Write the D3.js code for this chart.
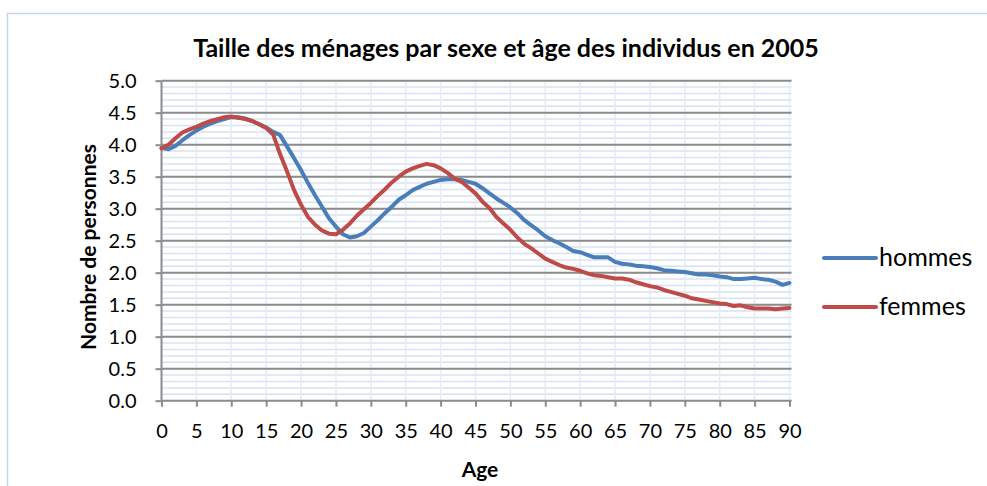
<!DOCTYPE html>
<html>
<head>
<meta charset="utf-8">
<script src="https://cdn.jsdelivr.net/npm/d3@7"></script>
<style>
  html, body { margin: 0; padding: 0; background: #fff; }
  svg { display: block; }
</style>
</head>
<body>
<div id="chart"></div>
<script>
  // Ages (x categories) and household size per sex
  var AGES = d3.range(0, 91);
  var HOMMES = [
    3.95, 3.93, 3.98, 4.07, 4.15, 4.22, 4.28, 4.33, 4.37, 4.40,
    4.43, 4.43, 4.41, 4.37, 4.32, 4.27, 4.20, 4.15, 3.97, 3.79,
    3.60, 3.40, 3.21, 3.03, 2.85, 2.72, 2.60, 2.55, 2.57, 2.62,
    2.72, 2.82, 2.93, 3.03, 3.14, 3.21, 3.29, 3.34, 3.39, 3.42,
    3.45, 3.46, 3.46, 3.45, 3.42, 3.39, 3.32, 3.24, 3.16, 3.09,
    3.02, 2.93, 2.82, 2.74, 2.66, 2.57, 2.51, 2.46, 2.40, 2.34,
    2.32, 2.28, 2.24, 2.24, 2.24, 2.17, 2.14, 2.13, 2.11, 2.10,
    2.09, 2.07, 2.04, 2.03, 2.02, 2.01, 1.99, 1.97, 1.97, 1.96,
    1.94, 1.93, 1.90, 1.90, 1.91, 1.92, 1.90, 1.89, 1.86, 1.81,
    1.84
  ];
  var FEMMES = [
    3.94, 4.00, 4.10, 4.19, 4.24, 4.28, 4.33, 4.37, 4.40, 4.43,
    4.44, 4.42, 4.40, 4.37, 4.32, 4.26, 4.16, 3.85, 3.58, 3.29,
    3.06, 2.87, 2.75, 2.66, 2.61, 2.60, 2.67, 2.77, 2.89, 2.99,
    3.09, 3.20, 3.30, 3.41, 3.50, 3.58, 3.63, 3.67, 3.70, 3.68,
    3.63, 3.56, 3.47, 3.42, 3.33, 3.24, 3.11, 3.01, 2.87, 2.77,
    2.67, 2.55, 2.45, 2.38, 2.30, 2.22, 2.17, 2.12, 2.08, 2.06,
    2.03, 1.99, 1.96, 1.95, 1.93, 1.91, 1.91, 1.89, 1.85, 1.82,
    1.79, 1.77, 1.73, 1.70, 1.67, 1.64, 1.60, 1.58, 1.56, 1.54,
    1.52, 1.51, 1.48, 1.49, 1.46, 1.44, 1.44, 1.44, 1.43, 1.44,
    1.45
  ];
  var X_TICKS = d3.range(0, 91, 5);
  var Y_TICKS = [0, 0.5, 1, 1.5, 2, 2.5, 3, 3.5, 4, 4.5, 5];
  var Y_MINOR = d3.range(0, 5.001, 0.1);
  var SERIES_NAMES = ['hommes', 'femmes'];
  var SERIES_COLORS = ['#4a7ebb', '#be4b48'];

  var W = 987, H = 486;
  var FONT = 'Lato, "Open Sans", sans-serif';

  var svg = d3.select('#chart').append('svg')
    .attr('width', W)
    .attr('height', H);

  // chart frame (runs off the right/bottom edges)
  svg.append('rect')
    .attr('x', 7.5).attr('y', 13.5)
    .attr('width', W).attr('height', H)
    .attr('fill', '#fff')
    .attr('stroke', '#c5d6ea')
    .attr('stroke-width', 1.5);

  var x = d3.scaleLinear().domain([0, 90]).range([161.5, 789.5]);
  var y = d3.scaleLinear().domain([0, 5]).range([400.7, 80.7]);

  var g = svg.append('g');

  // minor horizontal gridlines
  g.append('g').selectAll('line')
    .data(Y_MINOR)
    .join('line')
    .attr('x1', x(0)).attr('x2', x(90) + 2)
    .attr('y1', function (d) { return y(d); })
    .attr('y2', function (d) { return y(d); })
    .attr('stroke', '#d6e2f1')
    .attr('stroke-width', 1.5);

  // vertical gridlines every 5 years
  g.append('g').selectAll('line')
    .data(X_TICKS.slice(1))
    .join('line')
    .attr('x1', function (d) { return x(d); })
    .attr('x2', function (d) { return x(d); })
    .attr('y1', y(5)).attr('y2', y(0))
    .attr('stroke', '#e3ebf5')
    .attr('stroke-width', 1.5);

  // major horizontal gridlines
  g.append('g').selectAll('line')
    .data(Y_TICKS.slice(1))
    .join('line')
    .attr('x1', x(0)).attr('x2', x(90) + 2)
    .attr('y1', function (d) { return y(d); })
    .attr('y2', function (d) { return y(d); })
    .attr('stroke', '#8c8c8c')
    .attr('stroke-width', 2);

  // y axis
  var yAxis = d3.axisLeft(y)
    .tickValues(Y_TICKS)
    .tickSize(6)
    .tickPadding(19)
    .tickFormat(d3.format('.1f'));
  var yg = svg.append('g')
    .attr('transform', 'translate(' + x(0) + ',0)')
    .call(yAxis);

  // x axis
  var xAxis = d3.axisBottom(x)
    .tickValues(X_TICKS)
    .tickSize(6)
    .tickPadding(17)
    .tickFormat(d3.format('d'));
  var xg = svg.append('g')
    .attr('transform', 'translate(0,' + y(0) + ')')
    .call(xAxis);

  [yg, xg].forEach(function (ax) {
    ax.select('.domain').attr('stroke', '#8c8c8c').attr('stroke-width', 2);
    ax.selectAll('.tick line').attr('stroke', '#8c8c8c').attr('stroke-width', 2);
    ax.selectAll('.tick text')
      .attr('fill', '#000')
      .attr('font-family', FONT)
      .attr('font-size', '20px');
  });
  xg.select('.domain').attr('d', 'M' + x(0) + ',0H' + (x(90) + 2));
  yg.select('.domain').attr('d', 'M0,' + y(0) + 'V' + y(5));

  // series lines
  var line = d3.line()
    .x(function (d) { return x(d[0]); })
    .y(function (d) { return y(d[1]); })
    .curve(d3.curveLinear);

  [HOMMES, FEMMES].forEach(function (vals, i) {
    var pts = AGES.map(function (a, k) { return [a, vals[k]]; });
    svg.append('path')
      .datum(pts)
      .attr('d', line)
      .attr('fill', 'none')
      .attr('stroke', SERIES_COLORS[i])
      .attr('stroke-width', 4)
      .attr('stroke-linejoin', 'round')
      .attr('stroke-linecap', 'round');
  });

  // title
  svg.append('text')
    .attr('x', 506).attr('y', 57)
    .attr('text-anchor', 'middle')
    .attr('font-family', FONT)
    .attr('font-weight', 'bold')
    .attr('font-size', '25px')
    .text('Taille des ménages par sexe et âge des individus en 2005');

  // axis titles
  svg.append('text')
    .attr('transform', 'translate(96,247) rotate(-90)')
    .attr('text-anchor', 'middle')
    .attr('font-family', FONT)
    .attr('font-weight', 'bold')
    .attr('font-size', '21px')
    .text('Nombre de personnes');

  svg.append('text')
    .attr('x', 480).attr('y', 477)
    .attr('text-anchor', 'middle')
    .attr('font-family', FONT)
    .attr('font-weight', 'bold')
    .attr('font-size', '21px')
    .text('Age');

  // legend
  var legend = svg.append('g');
  SERIES_NAMES.forEach(function (name, i) {
    var ly = 258 + i * 49;
    legend.append('line')
      .attr('x1', 824).attr('x2', 876)
      .attr('y1', ly).attr('y2', ly)
      .attr('stroke', SERIES_COLORS[i])
      .attr('stroke-width', 4)
      .attr('stroke-linecap', 'round');
    legend.append('text')
      .attr('x', 879).attr('y', ly + 8)
      .attr('font-family', FONT)
      .attr('font-size', '25px')
      .text(name);
  });
</script>
</body>
</html>
